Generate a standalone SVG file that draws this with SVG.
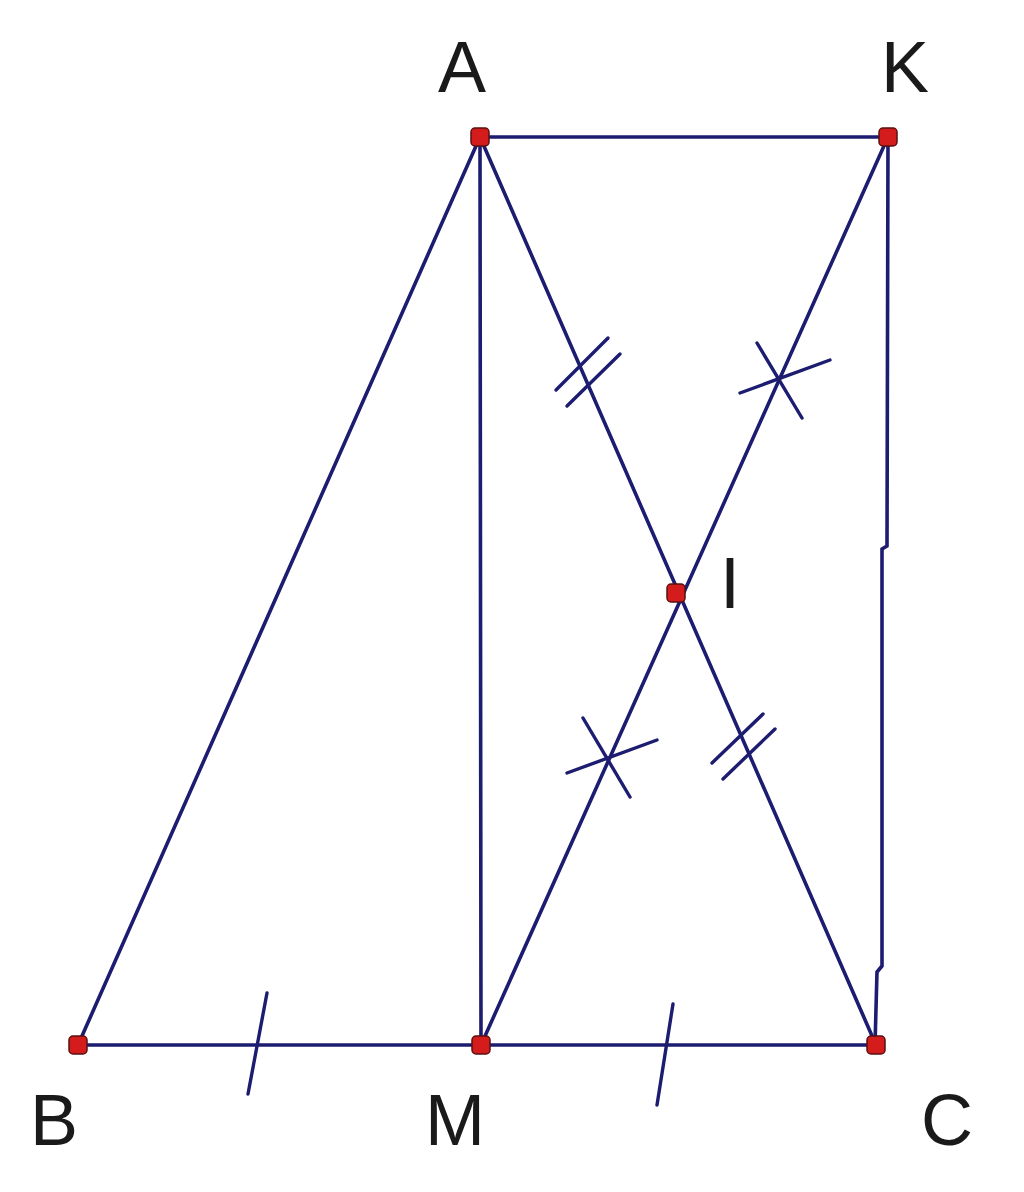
<svg xmlns="http://www.w3.org/2000/svg" width="1024" height="1192" viewBox="0 0 1024 1192">
<style>
.ln{stroke:#1c1c70;stroke-width:3.6;fill:none;stroke-linecap:round}
.tk{stroke:#1c1c70;stroke-width:3.4;fill:none;stroke-linecap:round}
.pt{fill:#d41c1c;stroke:#5a1010;stroke-width:1.5}
.lb{font-family:"Liberation Sans",Arial,sans-serif;font-size:72px;fill:#1a1a1a}
</style>
<rect width="1024" height="1192" fill="#ffffff"/>
<g id="connectors">
<line class="ln" x1="480" y1="137" x2="888" y2="137"/>
<line class="ln" x1="480" y1="137" x2="78" y2="1045"/>
<line class="ln" x1="480" y1="137" x2="481" y2="1045"/>
<line class="ln" x1="480" y1="137" x2="876" y2="1045"/>
<line class="ln" x1="888" y1="137" x2="481" y2="1045"/>
<polyline class="ln" points="888,137 887,546 882,549 882,966 877,972 875,1045"/>
<line class="ln" x1="78" y1="1045" x2="876" y2="1045"/>
</g>
<g id="ticks">
<line class="tk" x1="267" y1="993" x2="248" y2="1094"/>
<line class="tk" x1="673" y1="1004" x2="657" y2="1105"/>
<line class="tk" x1="608" y1="338" x2="556" y2="390"/>
<line class="tk" x1="620" y1="354" x2="567" y2="406"/>
<line class="tk" x1="763" y1="714" x2="712" y2="763"/>
<line class="tk" x1="775" y1="729" x2="723" y2="779"/>
<line class="tk" x1="757" y1="343" x2="802" y2="418"/>
<line class="tk" x1="740" y1="393" x2="830" y2="360"/>
<line class="tk" x1="583" y1="718" x2="630" y2="797"/>
<line class="tk" x1="567" y1="773" x2="657" y2="740"/>
</g>
<g id="node-A"><rect class="pt" x="471" y="128" width="18" height="18" rx="4"/><text class="lb" x="462" y="92" text-anchor="middle">A</text></g>
<g id="node-K"><rect class="pt" x="879" y="128" width="18" height="18" rx="4"/><text class="lb" x="905" y="92" text-anchor="middle">K</text></g>
<g id="node-B"><rect class="pt" x="69" y="1036" width="18" height="18" rx="4"/><text class="lb" x="54" y="1145" text-anchor="middle">B</text></g>
<g id="node-M"><rect class="pt" x="472" y="1036" width="18" height="18" rx="4"/><text class="lb" x="455" y="1145" text-anchor="middle">M</text></g>
<g id="node-C"><rect class="pt" x="867" y="1036" width="18" height="18" rx="4"/><text class="lb" x="947" y="1145" text-anchor="middle">C</text></g>
<g id="node-I"><rect class="pt" x="667" y="584" width="18" height="18" rx="4"/><text class="lb" x="730" y="608" text-anchor="middle" font-size="56">I</text></g>
</svg>
